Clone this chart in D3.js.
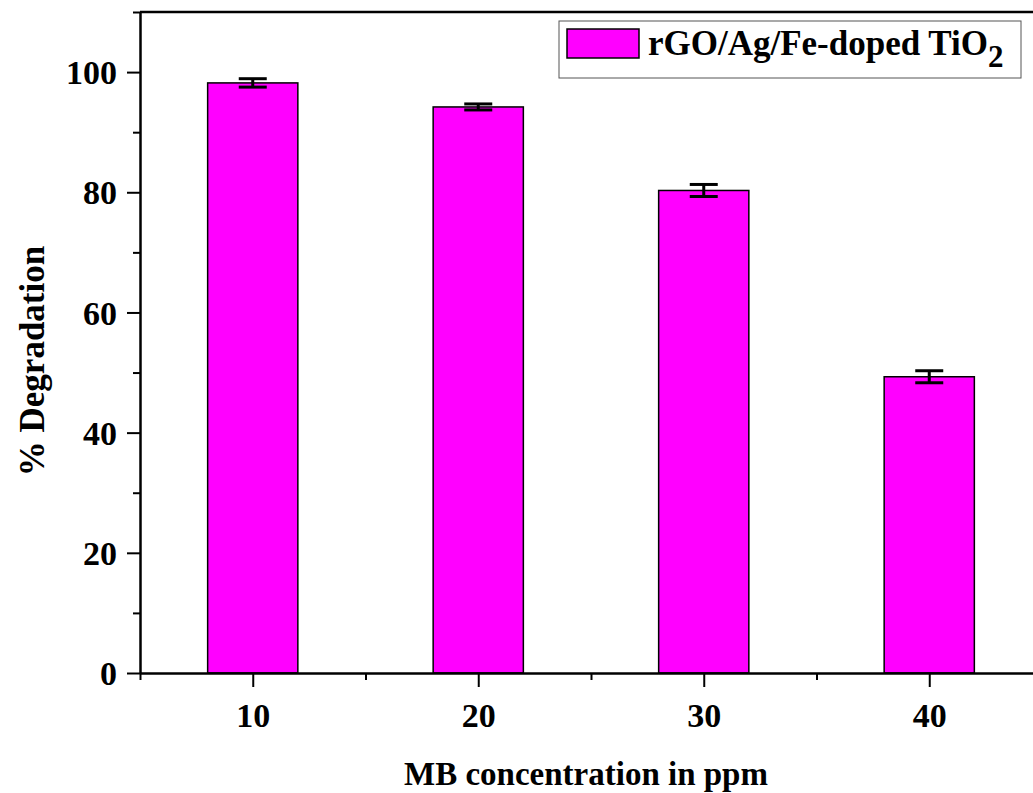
<!DOCTYPE html>
<html>
<head>
<meta charset="utf-8">
<title>MB degradation</title>
<script src="https://d3js.org/d3.v7.min.js"></script>
<style>
  body { margin: 0; background: #fff; }
  svg text { font-family: "Liberation Serif", "Times New Roman", serif; font-weight: bold; }
</style>
</head>
<body>
<svg id="chart" width="1033" height="793"></svg>
<script>
// data
const concentrations = [10, 20, 30, 40];
const degradation = [98.2, 94.2, 80.3, 49.3];
const errors = [0.7, 0.5, 1.0, 1.0];
const yTicks = [0, 20, 40, 60, 80, 100];
const seriesName = "rGO/Ag/Fe-doped TiO";

const svg = d3.select("#chart");

const plotLeft = 140, plotRight = 1042, plotTop = 12, plotBottom = 673;

const x = d3.scaleLinear().domain([5, 45]).range([plotLeft, plotRight]);
const y = d3.scaleLinear().domain([0, 110]).range([plotBottom, plotTop]);

// bars are 4 units wide
const barW = x(12) - x(8);

// bars
svg.append("g")
  .selectAll("rect")
  .data(concentrations)
  .join("rect")
    .attr("x", (d) => x(d) - barW / 2)
    .attr("y", (d, i) => y(degradation[i]))
    .attr("width", barW)
    .attr("height", (d, i) => y(0) - y(degradation[i]))
    .attr("fill", "#ff00ff")
    .attr("stroke", "#000")
    .attr("stroke-width", 1.5);

// error bars
const capW = 14;
const eb = svg.append("g").attr("stroke", "#000").attr("stroke-width", 3);
concentrations.forEach(function(c, i) {
  const cx = x(c);
  const y1 = y(degradation[i] + errors[i]), y0 = y(degradation[i] - errors[i]);
  eb.append("line").attr("x1", cx).attr("x2", cx).attr("y1", y1).attr("y2", y0);
  eb.append("line").attr("x1", cx - capW).attr("x2", cx + capW).attr("y1", y1).attr("y2", y1);
  eb.append("line").attr("x1", cx - capW).attr("x2", cx + capW).attr("y1", y0).attr("y2", y0);
});

// top frame line
svg.append("line")
  .attr("x1", plotLeft).attr("x2", plotRight).attr("y1", plotTop).attr("y2", plotTop)
  .attr("stroke", "#000").attr("stroke-width", 2.5);

// y axis: minor ticks then major
svg.append("g")
  .attr("transform", `translate(${plotLeft},0)`)
  .call(d3.axisLeft(y).tickValues(d3.range(10, 111, 20)).tickSize(7).tickFormat(""))
  .call(g => g.select(".domain").remove())
  .call(g => g.selectAll("line").attr("stroke-width", 2));

const yAxis = svg.append("g")
  .attr("transform", `translate(${plotLeft},0)`)
  .call(d3.axisLeft(y).tickValues(yTicks).tickSize(13).tickPadding(10).tickSizeOuter(0));
yAxis.select(".domain").attr("stroke-width", 2.5);
yAxis.selectAll("line").attr("stroke-width", 2);
yAxis.selectAll("text").attr("font-size", 34).attr("fill", "#000")
  .attr("font-family", "Liberation Serif").attr("dy", "0.34em");

// x axis: minor then major
svg.append("g")
  .attr("transform", `translate(0,${plotBottom})`)
  .call(d3.axisBottom(x).tickValues([5, 15, 25, 35]).tickSize(7).tickFormat(""))
  .call(g => g.select(".domain").remove())
  .call(g => g.selectAll("line").attr("stroke-width", 2));

const xAxis = svg.append("g")
  .attr("transform", `translate(0,${plotBottom})`)
  .call(d3.axisBottom(x).tickValues(concentrations).tickSize(14).tickPadding(16).tickSizeOuter(0));
xAxis.select(".domain").attr("stroke-width", 2.5);
xAxis.selectAll("line").attr("stroke-width", 2);
xAxis.selectAll("text").attr("font-size", 34).attr("fill", "#000")
  .attr("font-family", "Liberation Serif");

// axis titles
svg.append("text")
  .attr("x", 586).attr("y", 785)
  .attr("text-anchor", "middle")
  .attr("font-size", 33)
  .text("MB concentration in ppm");

svg.append("text")
  .attr("transform", "translate(44,361) rotate(-90)")
  .attr("text-anchor", "middle")
  .attr("font-size", 35)
  .text("% Degradation");

// legend
const leg = svg.append("g");
leg.append("rect")
  .attr("x", 559).attr("y", 21).attr("width", 462).attr("height", 57)
  .attr("fill", "#fff").attr("stroke", "#555").attr("stroke-width", 1);
leg.append("rect")
  .attr("x", 567).attr("y", 29).attr("width", 72).attr("height", 29)
  .attr("fill", "#ff00ff").attr("stroke", "#000").attr("stroke-width", 1.5);
const lt = leg.append("text")
  .attr("x", 648).attr("y", 55)
  .attr("font-size", 35);
lt.append("tspan").text(seriesName);
lt.append("tspan").attr("dy", 12).attr("font-size", 31).text("2");
</script>
</body>
</html>
